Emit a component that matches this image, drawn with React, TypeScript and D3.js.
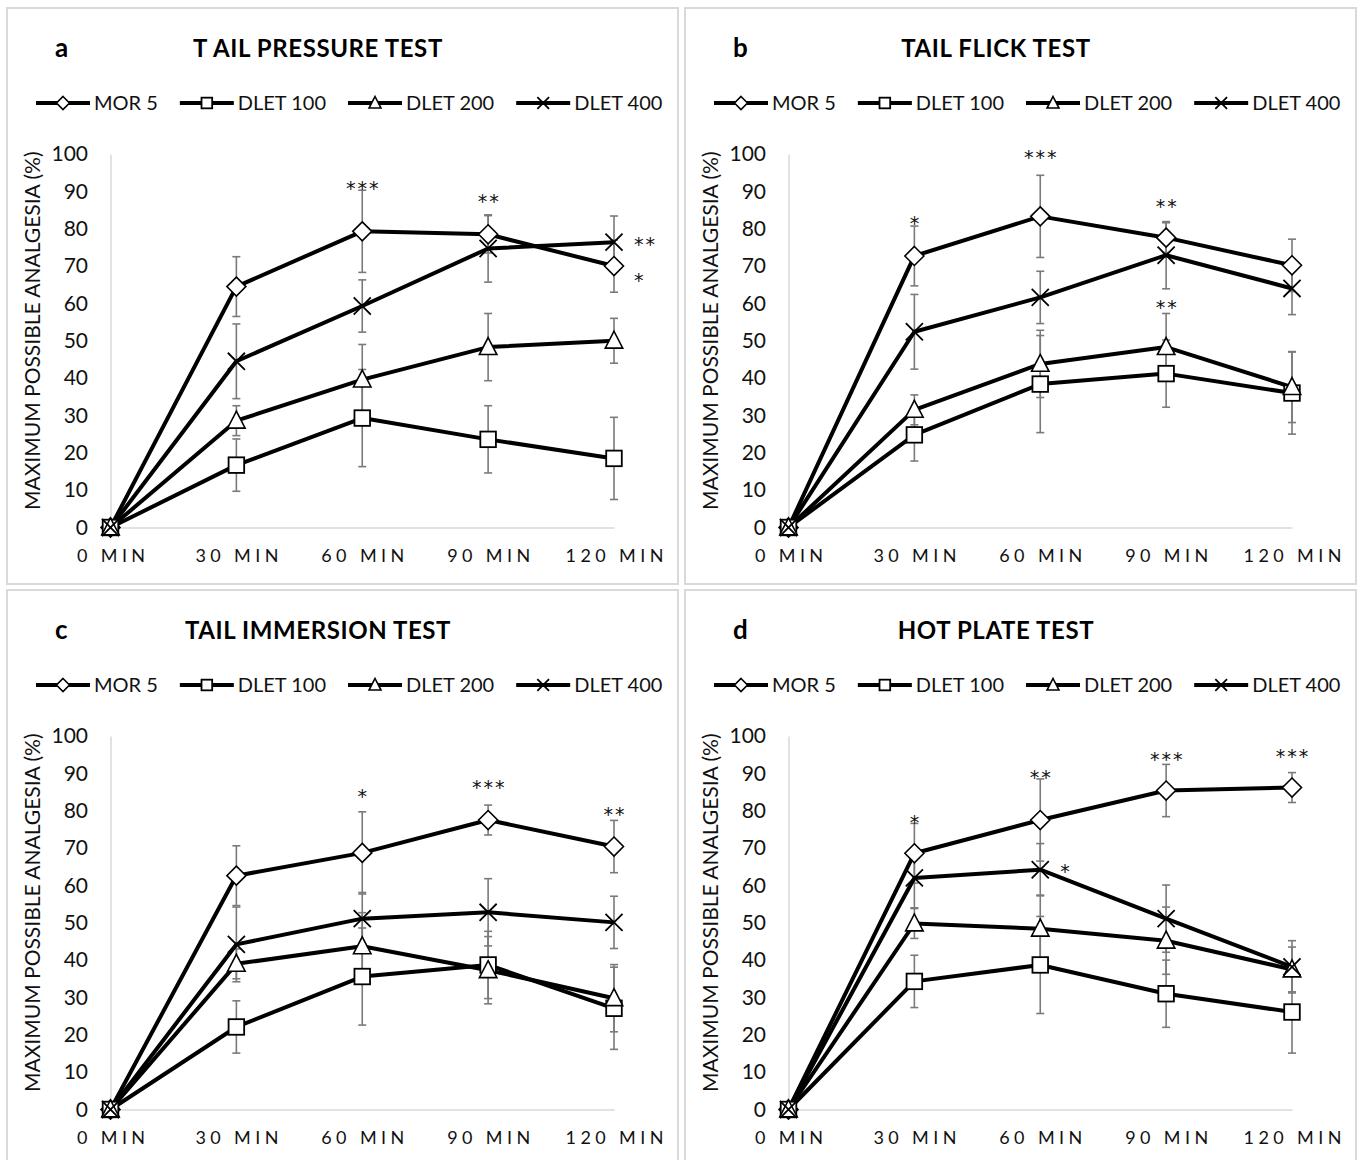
import React, { useEffect, useRef } from "react";
import * as d3 from "d3";

// x categories and y ticks shared by all four panels
const timePoints = ["0 MIN", "30 MIN", "60 MIN", "90 MIN", "120 MIN"];
const yTicks = [0, 10, 20, 30, 40, 50, 60, 70, 80, 90, 100];
const seriesNames = ["MOR 5", "DLET 100", "DLET 200", "DLET 400"];
const seriesSymbols = ["diamond", "square", "triangle", "cross"];

// a - tail pressure test (rows follow seriesNames)
const pressureMeans = [
  [0, 64.5, 79.3, 78.5, 70.0],
  [0, 16.7, 29.3, 23.6, 18.5],
  [0, 28.6, 39.6, 48.3, 50.0],
  [0, 44.5, 59.3, 74.7, 76.4],
];
const pressureErrors = [
  [0, 8, 11, 5, 7],
  [0, 7, 13, 9, 11],
  [0, 4, 9.4, 9, 6],
  [0, 10, 7, 9, 7],
];
const pressureStars = [
  { at: 2, value: 92, text: "***", side: "top" },
  { at: 3, value: 88.5, text: "**", side: "top" },
  { at: 4, value: 77, text: "**", side: "right" },
  { at: 4, value: 67.5, text: "*", side: "right" },
];

// b - tail flick test
const flickMeans = [
  [0, 72.7, 83.3, 77.6, 70.2],
  [0, 24.8, 38.4, 41.2, 36.0],
  [0, 31.5, 43.8, 48.3, 37.6],
  [0, 52.4, 61.6, 72.9, 64.0],
];
const flickErrors = [
  [0, 8, 11, 4, 7],
  [0, 7, 13, 9, 11],
  [0, 4, 9, 9, 9.5],
  [0, 10, 7, 9, 7],
];
const flickStars = [
  { at: 1, value: 82.7, text: "*", side: "top" },
  { at: 2, value: 100.3, text: "***", side: "top" },
  { at: 3, value: 87.4, text: "**", side: "top" },
  { at: 3, value: 60.3, text: "**", side: "top" },
];

// c - tail immersion test
const immersionMeans = [
  [0, 62.6, 68.7, 77.5, 70.4],
  [0, 22.1, 35.6, 38.7, 27.1],
  [0, 39.0, 43.7, 37.3, 29.8],
  [0, 44.2, 51.1, 52.8, 50.1],
];
const immersionErrors = [
  [0, 8, 11, 4, 7],
  [0, 7, 13, 9, 11],
  [0, 4, 9, 9, 9],
  [0, 10, 7, 9, 7],
];
const immersionStars = [
  { at: 2, value: 85.2, text: "*", side: "top" },
  { at: 3, value: 87.6, text: "***", side: "top" },
  { at: 4, value: 80.4, text: "**", side: "top" },
];

// d - hot plate test
const hotPlateMeans = [
  [0, 68.6, 77.5, 85.4, 86.2],
  [0, 34.3, 38.7, 31.0, 26.1],
  [0, 49.8, 48.4, 45.2, 37.5],
  [0, 62.0, 64.2, 51.1, 38.2],
];
const hotPlateErrors = [
  [0, 8, 11, 7, 4],
  [0, 7, 13, 9, 11],
  [0, 4, 9, 9, 6],
  [0, 8, 7, 9, 7],
];
const hotPlateStars = [
  { at: 1, value: 78.3, text: "*", side: "top" },
  { at: 2, value: 90.3, text: "**", side: "top" },
  { at: 3, value: 95, text: "***", side: "top" },
  { at: 4, value: 95.8, text: "***", side: "top" },
  { at: 2, value: 65, text: "*", side: "right" },
];

const panels = [
  { letter: "a", title: "T AIL PRESSURE TEST", means: pressureMeans, errors: pressureErrors, stars: pressureStars, ox: 7, oy: 8 },
  { letter: "b", title: "TAIL FLICK TEST", means: flickMeans, errors: flickErrors, stars: flickStars, ox: 685, oy: 8 },
  { letter: "c", title: "TAIL IMMERSION TEST", means: immersionMeans, errors: immersionErrors, stars: immersionStars, ox: 7, oy: 590 },
  { letter: "d", title: "HOT PLATE TEST", means: hotPlateMeans, errors: hotPlateErrors, stars: hotPlateStars, ox: 685, oy: 590 },
];

const W = 1363, H = 1160;
const panelW = 671, panelH = 576;
const plot = { left: 103.5, right: 607, top: 146, bottom: 519.5 };
const FONT = "Lato, 'Open Sans', sans-serif";

// draws one marker shape centered at 0,0
const drawMarker = (g, kind, s) => {
  if (kind === "diamond") {
    g.append("path").attr("d", `M0,${-s}L${s},0L0,${s}L${-s},0Z`)
      .attr("fill", "#fff").attr("stroke", "#000").attr("stroke-width", 1.6);
  } else if (kind === "square") {
    const h = s * 0.82;
    g.append("rect").attr("x", -h).attr("y", -h).attr("width", 2 * h).attr("height", 2 * h)
      .attr("fill", "#fff").attr("stroke", "#000").attr("stroke-width", 1.8);
  } else if (kind === "triangle") {
    g.append("path").attr("d", `M0,${-s}L${s * 0.92},${s * 0.78}L${-s * 0.92},${s * 0.78}Z`)
      .attr("fill", "#fff").attr("stroke", "#000").attr("stroke-width", 1.6);
  } else {
    const h = s * 0.9;
    g.append("path").attr("d", `M${-h},${-h}L${h},${h}M${-h},${h}L${h},${-h}`)
      .attr("fill", "none").attr("stroke", "#000").attr("stroke-width", 1.8);
  }
};

const drawPanel = (g, p) => {
  g.append("rect")
    .attr("x", 0).attr("y", 0).attr("width", panelW).attr("height", panelH)
    .attr("fill", "#fff").attr("stroke", "#d9d9d9").attr("stroke-width", 2);

  const x = d3.scalePoint().domain(timePoints).range([plot.left, plot.right]);
  const y = d3.scaleLinear().domain([0, 100]).range([plot.bottom, plot.top]);

  // titles
  g.append("text").attr("x", 48).attr("y", 49).text(p.letter)
    .attr("font-family", FONT).attr("font-weight", 700).attr("font-size", 26).attr("fill", "#000");
  g.append("text").attr("x", 311).attr("y", 49).attr("text-anchor", "middle").text(p.title)
    .attr("font-family", FONT).attr("font-weight", 700).attr("font-size", 24)
    .attr("letter-spacing", "0.6px").attr("fill", "#000");

  // legend
  const legend = g.append("g").attr("transform", "translate(29,95)");
  let lx = 0;
  seriesNames.forEach((name, i) => {
    const item = legend.append("g").attr("transform", `translate(${lx},0)`);
    item.append("line").attr("x1", 0).attr("x2", 54).attr("y1", 0).attr("y2", 0)
      .attr("stroke", "#000").attr("stroke-width", 4);
    const m = item.append("g").attr("transform", "translate(27,0)");
    drawMarker(m, seriesSymbols[i], 6.5);
    const t = item.append("text").attr("x", 58).attr("y", 0).attr("dy", "0.36em").text(name)
      .attr("font-family", FONT).attr("font-size", 20).attr("fill", "#111");
    lx += 58 + t.node().getComputedTextLength() + 22;
  });

  // axes
  const yAxis = g.append("g").attr("transform", `translate(${plot.left},0)`)
    .call(d3.axisLeft(y).tickValues(yTicks).tickSize(0).tickPadding(22.5));
  yAxis.select(".domain").attr("stroke", "#d9d9d9").attr("stroke-width", 1.5);
  yAxis.selectAll("text").attr("font-family", FONT).attr("font-size", 21).attr("fill", "#111");

  const xAxis = g.append("g").attr("transform", `translate(0,${plot.bottom})`)
    .call(d3.axisBottom(x).tickSize(0).tickPadding(21.5));
  xAxis.select(".domain").attr("stroke", "#d9d9d9").attr("stroke-width", 1.5);
  xAxis.selectAll("text").attr("font-family", FONT).attr("font-size", 18).attr("fill", "#111")
    .attr("letter-spacing", "4.4px").attr("dx", 2.2);

  g.append("text")
    .attr("transform", `translate(26,${(plot.top + plot.bottom) / 2 - 10}) rotate(-90)`)
    .attr("text-anchor", "middle").attr("dy", "0.35em")
    .text("MAXIMUM POSSIBLE ANALGESIA (%)")
    .attr("font-family", FONT).attr("font-size", 21).attr("fill", "#111");

  // error bars
  const bars = g.append("g").attr("stroke", "#7a7a7a").attr("stroke-width", 1.6).attr("fill", "none");
  p.means.forEach((row, si) => {
    row.forEach((v, i) => {
      const e = p.errors[si][i];
      if (!e) return;
      const cx = x(timePoints[i]);
      bars.append("line").attr("x1", cx).attr("x2", cx).attr("y1", y(v - e)).attr("y2", y(v + e));
      [v - e, v + e].forEach((c) => {
        bars.append("line").attr("x1", cx - 4).attr("x2", cx + 4).attr("y1", y(c)).attr("y2", y(c));
      });
    });
  });

  // lines
  const line = d3.line().x((d, i) => x(timePoints[i])).y((d) => y(d));
  p.means.forEach((row) => {
    g.append("path").datum(row).attr("d", line)
      .attr("fill", "none").attr("stroke", "#000").attr("stroke-width", 4).attr("stroke-linejoin", "round");
  });

  // markers
  p.means.forEach((row, si) => {
    row.forEach((v, i) => {
      const m = g.append("g").attr("transform", `translate(${x(timePoints[i])},${y(v)})`);
      drawMarker(m, seriesSymbols[si], 9.5);
    });
  });

  // significance stars
  p.stars.forEach((s) => {
    const cx = x(timePoints[s.at]);
    g.append("text")
      .attr("x", s.side === "right" ? cx + 20 : cx)
      .attr("y", y(s.value) + 11.5)
      .attr("dx", s.side === "right" ? 0 : 1)
      .attr("text-anchor", s.side === "right" ? "start" : "middle")
      .attr("letter-spacing", "2px")
      .text(s.text)
      .attr("font-family", "'DejaVu Sans', sans-serif").attr("font-size", 19).attr("fill", "#111");
  });
};

const App = () => {
  const ref = useRef(null);

  useEffect(() => {
    const svg = d3.select(ref.current);
    svg.selectAll("*").remove();
    svg.append("rect").attr("width", W).attr("height", H).attr("fill", "#fff");
    panels.forEach((p) => {
      const g = svg.append("g").attr("transform", `translate(${p.ox},${p.oy})`);
      drawPanel(g, p);
    });
  }, []);

  return (
    <div style={{ position: "absolute", left: 0, top: 0 }}>
      <svg ref={ref} width={W} height={H} style={{ display: "block" }} />
    </div>
  );
};

export default App;
